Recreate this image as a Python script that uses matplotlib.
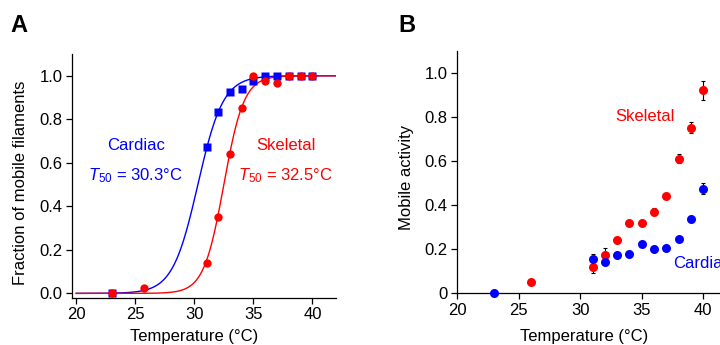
import numpy as np
import matplotlib
matplotlib.use("Agg")
import matplotlib.pyplot as plt

plt.rcParams['font.family'] = ['Liberation Sans', 'DejaVu Sans']
plt.rcParams['mathtext.fontset'] = 'custom'
plt.rcParams['mathtext.rm'] = 'Liberation Sans'
plt.rcParams['mathtext.it'] = 'Liberation Sans:italic'

BLUE = '#0000FF'
RED = '#FF0000'

# ---- Panel A data ----
a_card_T = [23, 31.1, 32, 33, 34, 35, 36, 37, 38, 39, 40]
a_card_f = [0.0, 0.675, 0.835, 0.925, 0.94, 0.975, 1.0, 1.0, 1.0, 1.0, 1.0]
a_skel_T = [23, 25.7, 31.1, 32, 33, 34, 35, 36, 37, 38, 39, 40]
a_skel_f = [0.0, 0.025, 0.14, 0.35, 0.64, 0.85, 1.0, 0.975, 0.965, 1.0, 1.0, 1.0]
# fitted sigmoid parameters (T50 from labels, slope estimated)
card_T50, card_k = 30.3, 1.07
skel_T50, skel_k = 32.5, 0.85

# ---- Panel B data ----
b_card_T = [23, 31, 32, 33, 34, 35, 36, 37, 38, 39, 40]
b_card_v = [0.0, 0.155, 0.14, 0.175, 0.18, 0.225, 0.20, 0.205, 0.245, 0.335, 0.475]
b_card_e = [0.0, 0.025, 0.01, 0.01, 0.01, 0.01, 0.01, 0.01, 0.01, 0.01, 0.025]
b_skel_T = [26, 31, 32, 33, 34, 35, 36, 37, 38, 39, 40]
b_skel_v = [0.05, 0.12, 0.175, 0.24, 0.32, 0.32, 0.37, 0.44, 0.61, 0.75, 0.92]
b_skel_e = [0.01, 0.03, 0.03, 0.01, 0.01, 0.01, 0.015, 0.01, 0.02, 0.025, 0.043]

xticks = [20, 25, 30, 35, 40]
a_yticks = [0.0, 0.2, 0.4, 0.6, 0.8, 1.0]
a_yticklabels = ['0.0', '0.2', '0.4', '0.6', '0.8', '1.0']
b_yticks = [0.0, 0.2, 0.4, 0.6, 0.8, 1.0]
b_yticklabels = ['0', '0.2', '0.4', '0.6', '0.8', '1.0']

fig = plt.figure(figsize=(7.2, 3.45), dpi=100)

def style(ax):
    for s in ['top', 'right']:
        ax.spines[s].set_visible(False)
    for s in ['left', 'bottom']:
        ax.spines[s].set_linewidth(0.9)
    ax.tick_params(direction='out', length=4, width=0.9, labelsize=12, pad=3)

# Panel A
axA = fig.add_axes([0.100, 0.137, 0.3667, 0.7064])
style(axA)
Tfit = np.linspace(20, 42, 400)
axA.plot(Tfit, 1 / (1 + np.exp((card_T50 - Tfit) / card_k)), color=BLUE, lw=1.0)
axA.plot(Tfit, 1 / (1 + np.exp((skel_T50 - Tfit) / skel_k)), color=RED, lw=1.0)
axA.plot(a_card_T, a_card_f, 's', color=BLUE, ms=5.5, mec='none', clip_on=False)
axA.plot(a_skel_T, a_skel_f, 'o', color=RED, ms=6, mec='none', clip_on=False)
axA.set_xlim(19.64, 42)
axA.set_ylim(-0.02, 1.1)
axA.set_xticks(xticks)
axA.set_yticks(a_yticks)
axA.set_yticklabels(a_yticklabels)
axA.set_xlabel('Temperature (°C)', fontsize=12, va='center')
axA.xaxis.set_label_coords(0.463, -0.161)
axA.set_ylabel('Fraction of mobile filaments', fontsize=12, va='center')
axA.yaxis.set_label_coords(-0.194, 0.473)
axA.text(25.1, 0.68, 'Cardiac', color=BLUE, fontsize=12, ha='center', va='center')
axA.text(25.0, 0.543, r'$\mathit{T}_{\mathrm{50}}$ = 30.3°C', color=BLUE, fontsize=12, ha='center', va='center')
axA.text(37.75, 0.68, 'Skeletal', color=RED, fontsize=12, ha='center', va='center')
axA.text(37.75, 0.543, r'$\mathit{T}_{\mathrm{50}}$ = 32.5°C', color=RED, fontsize=12, ha='center', va='center')
fig.text(10 / 720, 1 - 26 / 345, 'A', fontsize=17, fontweight='bold', ha='left', va='center')

# Panel B
axB = fig.add_axes([0.635, 0.150, 0.376, 0.703])
style(axB)
axB.errorbar(b_skel_T, b_skel_v, yerr=b_skel_e, fmt='none', ecolor='black', elinewidth=0.8, capsize=1.5, capthick=0.8, zorder=2)
axB.errorbar(b_card_T, b_card_v, yerr=b_card_e, fmt='none', ecolor='black', elinewidth=0.8, capsize=1.5, capthick=0.8, zorder=2)
axB.plot(b_skel_T, b_skel_v, 'o', color=RED, ms=6.5, mec='none', zorder=3, clip_on=False)
axB.plot(b_card_T, b_card_v, 'o', color=BLUE, ms=6.5, mec='none', zorder=3, clip_on=False)
axB.set_xlim(20, 42)
axB.set_ylim(0, 1.1)
axB.set_xticks(xticks)
axB.set_yticks(b_yticks)
axB.set_yticklabels(b_yticklabels)
axB.set_xlabel('Temperature (°C)', fontsize=12, va='center')
axB.xaxis.set_label_coords(0.4675, -0.18)
axB.set_ylabel('Mobile activity', fontsize=12, va='center')
axB.yaxis.set_label_coords(-0.187, 0.477)
axB.text(35.26, 0.80, 'Skeletal', color=RED, fontsize=12, ha='center', va='center')
axB.text(37.56, 0.136, 'Cardiac', color=BLUE, fontsize=12, ha='left', va='center', clip_on=False)
fig.text(398 / 720, 1 - 26 / 345, 'B', fontsize=17, fontweight='bold', ha='left', va='center')

fig.savefig('out.png', dpi=100)
